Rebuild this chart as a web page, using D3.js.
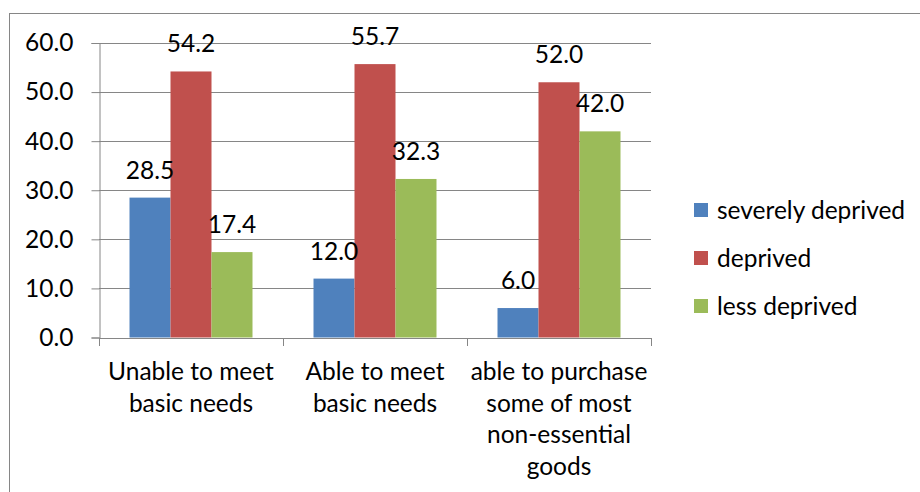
<!DOCTYPE html>
<html>
<head>
<meta charset="utf-8">
<script src="https://cdn.jsdelivr.net/npm/d3@7"></script>
<style>
  html, body { margin: 0; padding: 0; background: #fff; }
  svg text { font-family: Lato, "Open Sans", sans-serif; fill: #000; }
</style>
</head>
<body>
<svg id="chart" width="920" height="492"></svg>
<script>
const categories = ["Unable to meet\nbasic needs", "Able to meet\nbasic needs", "able to purchase\nsome of most\nnon-essential\ngoods"];
const seriesNames = ["severely deprived", "deprived", "less deprived"];
const severelyDeprived = [28.5, 12.0, 6.0];
const deprived = [54.2, 55.7, 52.0];
const lessDeprived = [17.4, 32.3, 42.0];
const yTicks = [0, 10, 20, 30, 40, 50, 60];
const colors = ["#4F81BD", "#C0504D", "#9BBB59"];

const seriesValues = [severelyDeprived, deprived, lessDeprived];
const FS = 24.5;

const svg = d3.select("#chart");
// outer chart border
svg.append("rect").attr("x", 9.5).attr("y", 13.5).attr("width", 930).attr("height", 500)
  .attr("fill", "none").attr("stroke", "#868686").attr("stroke-width", 1);

const plot = { left: 99, right: 651, top: 43, bottom: 337.5 };

const x0 = d3.scaleBand().domain(categories).range([plot.left, plot.right]).paddingInner(0).paddingOuter(0);
const x1 = d3.scaleBand().domain(seriesNames).range([0, x0.bandwidth()]).paddingInner(0).paddingOuter(0.744);
const y = d3.scaleLinear().domain([0, 60]).range([plot.bottom, plot.top]);

// gridlines
svg.append("g").selectAll("line").data(yTicks).join("line")
  .attr("x1", plot.left).attr("x2", plot.right)
  .attr("y1", d => Math.round(y(d)) + 0.5).attr("y2", d => Math.round(y(d)) + 0.5)
  .attr("stroke", "#868686").attr("stroke-width", 1);

// y axis
const yAxis = d3.axisLeft(y).tickValues(yTicks).tickFormat(d3.format(".1f")).tickSize(8).tickPadding(18);
const gy = svg.append("g").attr("transform", `translate(${plot.left + 0.5},0)`).call(yAxis);
gy.select(".domain").attr("stroke", "#868686");
gy.selectAll(".tick line").attr("stroke", "#868686");
gy.selectAll(".tick text").attr("font-size", FS).attr("font-family", "Lato").attr("fill", "#000");

// bars
const groups = svg.append("g").selectAll("g").data(categories).join("g")
  .attr("transform", d => `translate(${x0(d)},0)`);

groups.selectAll("rect").data((c, i) => seriesNames.map((s, j) => ({ s, j, v: seriesValues[j][i] })))
  .join("rect")
  .attr("x", d => x1(d.s)).attr("width", x1.bandwidth())
  .attr("y", d => y(d.v)).attr("height", d => y(0) - y(d.v))
  .attr("fill", d => colors[d.j]);

groups.selectAll("text.val").data((c, i) => seriesNames.map((s, j) => ({ s, j, v: seriesValues[j][i] })))
  .join("text").attr("class", "val")
  .attr("x", d => x1(d.s) + x1.bandwidth() / 2)
  .attr("y", d => y(d.v) - 19)
  .attr("text-anchor", "middle").attr("font-size", FS)
  .text(d => d3.format(".1f")(d.v));

// x axis
const xAxisLine = svg.append("g");
xAxisLine.append("line").attr("x1", plot.left).attr("x2", plot.right)
  .attr("y1", Math.round(y(0)) + 0.5).attr("y2", Math.round(y(0)) + 0.5).attr("stroke", "#868686");
const bounds = categories.map(c => x0(c)).concat([plot.right]);
xAxisLine.selectAll("line.tk").data(bounds).join("line").attr("class", "tk")
  .attr("x1", d => Math.round(d) + 0.5).attr("x2", d => Math.round(d) + 0.5)
  .attr("y1", Math.round(y(0))).attr("y2", Math.round(y(0)) + 8).attr("stroke", "#868686");

svg.append("g").selectAll("text").data(categories).join("text")
  .attr("text-anchor", "middle").attr("font-size", FS)
  .attr("x", d => x0(d) + x0.bandwidth() / 2)
  .attr("y", 380)
  .each(function(d) {
    const t = d3.select(this);
    d.split("\n").forEach((line, k) => {
      t.append("tspan").attr("x", x0(d) + x0.bandwidth() / 2).attr("dy", k === 0 ? 0 : 31.5).text(line);
    });
  });

// legend
const leg = svg.append("g").attr("transform", "translate(694,0)");
const li = leg.selectAll("g").data(seriesNames).join("g")
  .attr("transform", (d, i) => `translate(0,${203 + i * 48})`);
li.append("rect").attr("width", 14).attr("height", 14).attr("fill", (d, i) => colors[i]);
li.append("text").attr("x", 23).attr("y", 7).attr("dy", "0.35em").attr("font-size", FS).text(d => d);
</script>
</body>
</html>
